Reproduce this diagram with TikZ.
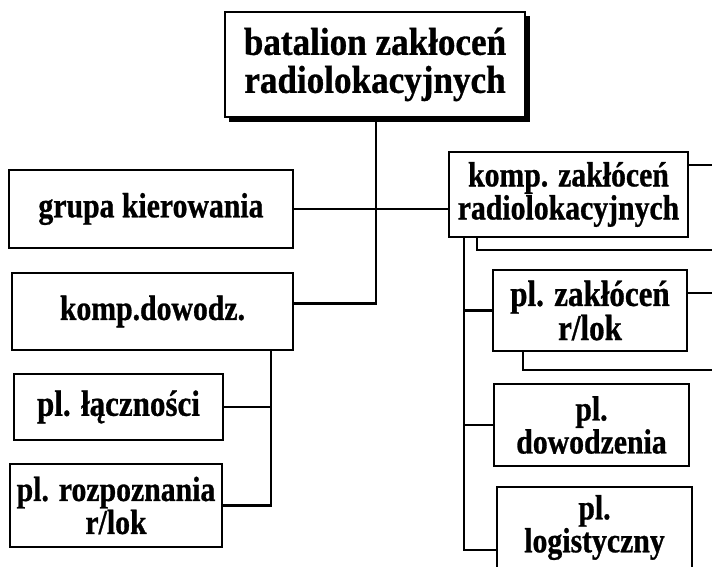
\documentclass[tikz,border=0pt]{standalone}
\usepackage{fontspec}
\setmainfont{Liberation Serif}
\newfontfamily\lowf{Liberation Serif}[FakeStretch=0.85,FakeBold=0.8]
\newfontfamily\topf{Liberation Serif}[FakeStretch=0.9,FakeBold=0.8]
\begin{document}
\begin{tikzpicture}[x=1pt,y=-1pt,
  box/.style={draw, line width=2.4pt, fill=white, inner sep=0pt, align=center,
    font=\lowf\bfseries\fontsize{35}{33}\selectfont},
  topfont/.style={font=\topf\bfseries\fontsize{39}{38}\selectfont},
  bigger/.style={font=\lowf\bfseries\fontsize{36.5}{33}\selectfont},
  conn/.style={line width=2.4pt}]
\useasboundingbox (0,0) rectangle (712,567);
\clip (0,0) rectangle (712,567);
\fill[white] (0,0) rectangle (712,567);
% shadows / stacked boxes
\fill[black] (229,16) rectangle (530,122);
\draw[line width=2.4pt, fill=white] (477,165) rectangle (740,250);
\draw[line width=2.4pt, fill=white] (523,293) rectangle (740,370);
% nodes
\node[box, topfont, minimum width=300pt, minimum height=105pt] (top) at (375,64.5) {batalion zakłoceń\\radiolokacyjnych};
\node[box, minimum width=284pt, minimum height=78pt] (gk) at (151,209) {grupa kierowania};
\node[box, minimum width=281pt, minimum height=77pt] (kd) at (152.5,311.5) {komp.dowodz.};
\node[box, bigger, minimum width=209pt, minimum height=66pt] (plq) at (118.5,407) {pl. łączności};
\node[box, minimum width=212pt, minimum height=83pt] (prz) at (116,505.5) {pl. rozpoznania\\r/lok};
\node[box, minimum width=239pt, minimum height=85pt] (kz) at (568.5,194.5) {komp. zakłóceń\\radiolokacyjnych};
\node[box, bigger, minimum width=194pt, minimum height=81pt] (pz) at (590,310.5) {pl. zakłóceń\\r/lok};
\node[box, minimum width=195pt, minimum height=82pt] (pd) at (591.5,425) {pl.\\dowodzenia};
\node[box, minimum width=195pt, minimum height=81pt] (pl) at (594.5,527.5) {pl.\\logistyczny};
% connectors
\coordinate (kzs) at ([xshift=16pt]kz.south west);
\coordinate (kds) at ([xshift=-23pt]kd.south east);
\draw[conn] ([xshift=1pt]top.south) |- ([yshift=8pt]kd.east);
\draw[conn] (gk.east) -- (gk.east -| kz.west);
\draw[conn] (kzs) |- (pz.west);
\draw[conn] (kzs) |- (pd.west);
\draw[conn] (kzs) |- ([yshift=-22.5pt]pl.west);
\draw[conn] (kds) |- (plq.east);
\draw[conn] (kds) |- (prz.east);
\end{tikzpicture}
\end{document}
